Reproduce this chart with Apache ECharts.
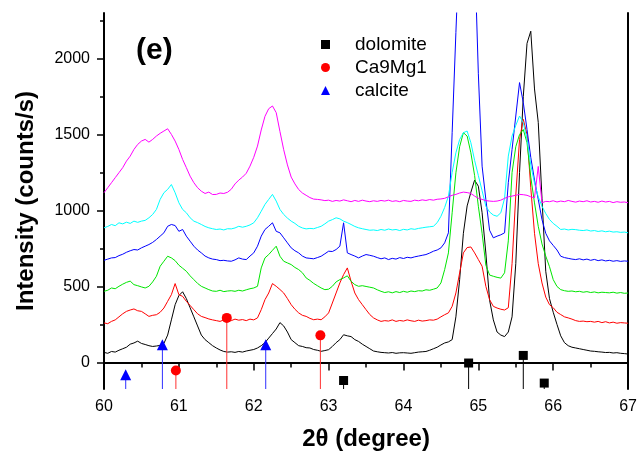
<!DOCTYPE html>
<html>
<head>
<meta charset="utf-8">
<script src="https://cdn.jsdelivr.net/npm/echarts@6/dist/echarts.min.js"></script>
<style>
  html, body { margin: 0; padding: 0; background: #fff; }
  #chart { width: 640px; height: 458px; }
</style>
</head>
<body>
<div id="chart"></div>
<script>
// 2-theta sampling grid (degrees), shared by all six diffraction patterns
const twoTheta = [
  60.00, 60.05, 60.10, 60.15, 60.20, 60.25, 60.30, 60.35, 60.40, 60.45,
  60.50, 60.55, 60.60, 60.65, 60.70, 60.75, 60.80, 60.85, 60.90, 60.95,
  61.00, 61.05, 61.10, 61.15, 61.20, 61.25, 61.30, 61.35, 61.40, 61.45,
  61.50, 61.55, 61.60, 61.65, 61.70, 61.75, 61.80, 61.85, 61.90, 61.95,
  62.00, 62.05, 62.10, 62.15, 62.20, 62.25, 62.30, 62.35, 62.40, 62.45,
  62.50, 62.55, 62.60, 62.65, 62.70, 62.75, 62.80, 62.85, 62.90, 62.95,
  63.00, 63.05, 63.10, 63.15, 63.20, 63.25, 63.30, 63.35, 63.40, 63.45,
  63.50, 63.55, 63.60, 63.65, 63.70, 63.75, 63.80, 63.85, 63.90, 63.95,
  64.00, 64.05, 64.10, 64.15, 64.20, 64.25, 64.30, 64.35, 64.40, 64.45,
  64.50, 64.55, 64.60, 64.65, 64.70, 64.75, 64.80, 64.85, 64.90, 64.95,
  65.00, 65.05, 65.10, 65.15, 65.20, 65.25, 65.30, 65.35, 65.40, 65.45,
  65.50, 65.55, 65.60, 65.65, 65.70, 65.75, 65.80, 65.85, 65.90, 65.95,
  66.00, 66.05, 66.10, 66.15, 66.20, 66.25, 66.30, 66.35, 66.40, 66.45,
  66.50, 66.55, 66.60, 66.65, 66.70, 66.75, 66.80, 66.85, 66.90, 66.95,
  67.00
];

// Intensities (counts/s), offset traces from bottom to top
const blackTrace = [
  66, 60, 72, 68, 80, 90, 100, 120, 128, 140,
  125, 118, 110, 105, 108, 112, 125, 180, 280, 380,
  440, 465, 420, 360, 300, 240, 180, 150, 130, 110,
  95, 82, 72, 68, 70, 66, 72, 68, 75, 80,
  85, 95, 110, 130, 160, 190, 220, 262, 240, 200,
  150, 130, 110, 105, 97, 95, 85, 80, 73, 78,
  84, 105, 130, 150, 182, 175, 170, 150, 138, 120,
  105, 90, 75, 70, 66, 64, 62, 65, 60, 63,
  64, 62, 60, 64, 68, 70, 72, 80, 90, 100,
  115, 128, 135, 150, 300, 545, 850, 1030, 1120, 1200,
  1160, 985, 720, 410, 280, 200, 180, 170, 200, 300,
  650, 1250, 1750, 2100, 2180, 1800, 1580, 1080, 600, 420,
  330, 250, 175, 130, 110, 100, 95, 90, 85, 80,
  75, 73, 70, 68, 65, 66, 62, 64, 60, 58,
  55
];
const redTrace = [
  260, 255, 270, 280, 300, 320, 336, 345, 352, 340,
  336, 320, 303, 310, 314, 330, 358, 402, 446, 519,
  446, 435, 402, 375, 347, 320, 303, 295, 286, 280,
  275, 270, 280, 272, 275, 285, 278, 282, 275, 285,
  280, 293, 347, 413, 457, 519, 501, 480, 457, 420,
  380, 350, 326, 310, 303, 290, 281, 285, 281, 300,
  326, 391, 457, 523, 578, 622, 534, 457, 413, 380,
  347, 315, 293, 280, 270, 275, 272, 280, 270, 276,
  272, 280, 274, 270, 278, 272, 275, 280, 278, 285,
  300, 314, 326, 369, 457, 589, 721, 756, 760, 721,
  677, 633, 501, 413, 369, 358, 350, 345, 360, 650,
  1100, 1467, 1600, 1500, 1150, 850, 650, 523, 430, 380,
  360, 330, 315, 300, 293, 285, 275, 270, 272, 268,
  270, 265, 270, 262, 268, 260, 265, 258, 262, 260,
  258
];
const greenTrace = [
  468, 475, 490, 485, 501, 515, 527, 535, 512, 505,
  497, 490, 501, 530, 567, 633, 666, 699, 688, 670,
  640, 620, 600, 570, 545, 520, 501, 490, 479, 470,
  468, 475, 466, 470, 472, 468, 475, 470, 478, 485,
  490, 501, 622, 688, 710, 738, 765, 699, 666, 655,
  644, 625, 611, 590, 556, 540, 520, 505, 490, 479,
  482, 501, 530, 545, 556, 570, 534, 512, 501, 505,
  500, 495, 490, 478, 468, 460, 465, 458, 466, 460,
  468, 462, 470, 466, 472, 470, 478, 475, 482, 490,
  523, 611, 721, 985, 1248, 1420, 1512, 1490, 1380, 1230,
  1028, 850, 640, 575, 567, 560, 555, 590, 800, 1250,
  1420, 1500, 1533, 1446, 1220, 1050, 896, 780, 700, 630,
  545, 500, 479, 472, 468, 470, 465, 468, 462, 466,
  460, 464, 458, 462, 460, 458, 462, 456, 460, 455,
  457
];
const blueTrace = [
  672, 680, 688, 690, 703, 712, 725, 735, 743, 740,
  754, 765, 776, 790, 809, 831, 853, 896, 908, 901,
  863, 875, 831, 798, 765, 740, 721, 700, 688, 680,
  677, 670, 672, 668, 666, 675, 688, 680, 677, 700,
  721, 765, 831, 875, 896, 919, 863, 853, 820, 787,
  754, 735, 721, 700, 688, 685, 682, 690, 699, 715,
  732, 730, 743, 765, 919, 721, 710, 700, 688, 700,
  710, 705, 699, 690, 682, 688, 677, 685, 680, 690,
  684, 692, 688, 695, 700, 705, 710, 720, 732, 740,
  754, 787, 853, 1512, 2172, 2800, 3200, 3300, 3100, 2700,
  1900, 1292, 1073, 870, 820, 831, 840, 853, 1183, 1402,
  1622, 1842, 1710, 1533, 1350, 1200, 1073, 940, 850, 800,
  770, 740, 699, 690, 685, 680, 677, 682, 675, 680,
  672, 678, 670, 675, 668, 672, 666, 670, 665, 668,
  666
];
const cyanTrace = [
  886, 895, 908, 900, 919, 912, 923, 915, 930, 922,
  930, 935, 952, 974, 1007, 1073, 1117, 1139, 1171, 1117,
  1051, 1007, 985, 952, 930, 920, 908, 895, 886, 880,
  875, 878, 872, 880, 879, 885, 896, 890, 896, 905,
  919, 952, 995, 1040, 1073, 1106, 1062, 1007, 974, 950,
  930, 915, 896, 885, 879, 882, 880, 888, 896, 912,
  930, 940, 952, 945, 930, 920, 908, 895, 886, 880,
  875, 870, 872, 868, 875, 870, 878, 872, 875, 868,
  876, 872, 880, 876, 882, 886, 890, 893, 896, 920,
  962, 1020, 1094, 1250, 1380, 1467, 1512, 1523, 1446, 1330,
  1230, 1130, 1028, 990, 970, 962, 985, 1080, 1358, 1490,
  1560, 1622, 1578, 1467, 1300, 1180, 1090, 1028, 980, 941,
  915, 896, 875, 878, 872, 876, 874, 870, 868, 872,
  865, 868, 862, 866, 860, 864, 858, 860, 856, 858,
  853
];
const magentaTrace = [
  1117, 1150, 1183, 1216, 1249, 1282, 1325, 1358, 1402, 1435,
  1457, 1468, 1450, 1468, 1490, 1508, 1523, 1538, 1501, 1457,
  1402, 1336, 1282, 1226, 1183, 1150, 1127, 1112, 1121, 1105,
  1106, 1115, 1112, 1120, 1140, 1175, 1200, 1220, 1245, 1292,
  1350, 1424, 1530, 1620, 1670, 1688, 1644, 1520, 1400, 1300,
  1220, 1175, 1138, 1115, 1100, 1085, 1075, 1073, 1070, 1065,
  1068, 1060, 1066, 1062, 1070, 1064, 1058, 1066, 1060, 1068,
  1062, 1058, 1064, 1060, 1066, 1062, 1068, 1060, 1064, 1058,
  1066, 1062, 1060, 1068, 1064, 1070, 1066, 1072, 1068, 1074,
  1076, 1080, 1090, 1100, 1106, 1115, 1121, 1118, 1112, 1095,
  1080, 1073, 1065, 1062, 1060, 1062, 1068, 1080, 1090, 1095,
  1100, 1106, 1104, 1100, 1090, 1084, 1290, 1051, 1060, 1058,
  1064, 1056, 1062, 1058, 1066, 1060, 1055, 1062, 1058, 1064,
  1056, 1060, 1054, 1062, 1056, 1060, 1052, 1058, 1054, 1056,
  1051
];

// Reference pattern sticks: positions (2-theta) and marker heights
const dolomiteX = [63.20, 64.87, 65.60, 65.88];
const dolomiteY = [-119, -4, 46, -136];
const ca9mg1X = [60.96, 61.64, 62.89];
const ca9mg1Y = [-53, 293, 178];
const calciteX = [60.29, 60.78, 62.16];
const calciteY = [-81, 117, 117];

// Axis settings
const yMin = -175;
const yMax = 2300;
const yMajorTicks = [0, 500, 1000, 1500, 2000];
const yMinorTicks = [250, 750, 1250, 1750, 2250];

const FONT = '"Liberation Sans", Arial, sans-serif';

function pairs(xs, ys) {
  return xs.map((x, i) => [x, ys[i]]);
}

function traceSeries(name, values, color) {
  return {
    name: name,
    type: 'line',
    xAxisIndex: 0,
    yAxisIndex: 0,
    data: pairs(twoTheta, values),
    showSymbol: false,
    symbol: 'none',
    lineStyle: { color: color, width: 1 },
    itemStyle: { color: color },
    silent: true,
    z: 2
  };
}

function stemSeries(xs, ys, color) {
  return {
    type: 'custom',
    xAxisIndex: 0,
    yAxisIndex: 0,
    data: pairs(xs, ys),
    silent: true,
    z: 3,
    renderItem: function (params, api) {
      const top = api.coord([api.value(0), api.value(1)]);
      const base = api.coord([api.value(0), yMin]);
      return {
        type: 'line',
        shape: { x1: top[0], y1: top[1], x2: base[0], y2: base[1] },
        style: { stroke: color, lineWidth: 1 }
      };
    }
  };
}

function markerSeries(name, xs, ys, symbol, size, color) {
  return {
    name: name,
    type: 'scatter',
    xAxisIndex: 0,
    yAxisIndex: 0,
    data: pairs(xs, ys),
    symbol: symbol,
    symbolSize: size,
    itemStyle: { color: color, opacity: 1 },
    silent: true,
    z: 4
  };
}

const chart = echarts.init(document.getElementById('chart'), null, { renderer: 'canvas' });

chart.setOption({
  animation: false,
  backgroundColor: '#ffffff',
  title: {
    text: '(e)',
    left: 136,
    top: 36,
    padding: 0,
    textStyle: { fontFamily: FONT, fontSize: 30, fontWeight: 'bold', color: '#000' }
  },
  legend: {
    orient: 'vertical',
    left: 321,
    top: 35,
    padding: 0,
    itemWidth: 9,
    itemHeight: 9,
    itemGap: 4,
    data: ['dolomite', 'Ca9Mg1', 'calcite'],
    textStyle: { fontFamily: FONT, fontSize: 19, color: '#000', padding: [0, 0, 0, 20] }
  },
  grid: { left: 104, right: 6, top: 13, bottom: 69, containLabel: false },
  xAxis: [
    {
      type: 'value',
      position: 'bottom',
      min: 60,
      max: 67,
      interval: 1,
      name: '2θ (degree)',
      nameLocation: 'middle',
      nameGap: 38,
      nameTextStyle: { fontFamily: FONT, fontSize: 24, fontWeight: 'bold', color: '#000' },
      axisLine: { lineStyle: { color: '#000', width: 2 } },
      axisTick: { inside: false, length: 8, lineStyle: { color: '#000', width: 1.5 } },
      axisLabel: { fontFamily: FONT, fontSize: 16, color: '#000', margin: 10 },
      splitLine: { show: false }
    },
    {
      type: 'value',
      position: 'top',
      min: 60,
      max: 67,
      interval: 0.5,
      axisLine: { lineStyle: { color: '#000', width: 2 } },
      axisTick: { inside: true, length: 5, lineStyle: { color: '#000', width: 1.5 } },
      axisLabel: { show: false },
      splitLine: { show: false }
    },
    {
      // half-degree minor ticks below the bottom axis
      type: 'value',
      position: 'bottom',
      min: 60,
      max: 67,
      interval: 0.5,
      axisLine: { show: false },
      axisTick: { inside: false, length: 4, lineStyle: { color: '#000', width: 1.5 } },
      axisLabel: { show: false },
      splitLine: { show: false }
    }
  ],
  yAxis: [
    {
      type: 'value',
      position: 'left',
      min: yMin,
      max: yMax,
      name: 'Intensity (counts/s)',
      nameLocation: 'middle',
      nameGap: 66,
      nameTextStyle: { fontFamily: FONT, fontSize: 24, fontWeight: 'bold', color: '#000' },
      axisLine: { lineStyle: { color: '#000', width: 2 } },
      axisTick: { inside: false, length: 7, customValues: yMajorTicks, lineStyle: { color: '#000', width: 1.5 } },
      axisLabel: {
        fontFamily: FONT, fontSize: 16, color: '#000', margin: 14,
        customValues: yMajorTicks,
        formatter: function (v) { return String(v); }
      },
      splitLine: { show: false }
    },
    {
      type: 'value',
      position: 'left',
      min: yMin,
      max: yMax,
      axisLine: { show: false },
      axisTick: { inside: false, length: 4, customValues: yMinorTicks, lineStyle: { color: '#000', width: 1.5 } },
      axisLabel: { show: false },
      splitLine: { show: false }
    },
    {
      type: 'value',
      position: 'right',
      min: yMin,
      max: yMax,
      axisLine: { show: true, lineStyle: { color: '#000', width: 2 } },
      axisTick: { show: false },
      axisLabel: { show: false },
      splitLine: { show: false }
    }
  ],
  series: [
    traceSeries('trace-1', blackTrace, '#000000'),
    traceSeries('trace-2', redTrace, '#ff0000'),
    traceSeries('trace-3', greenTrace, '#00e600'),
    traceSeries('trace-4', blueTrace, '#0000ff'),
    traceSeries('trace-5', cyanTrace, '#00ffff'),
    traceSeries('trace-6', magentaTrace, '#ff00ff'),
    stemSeries(dolomiteX, dolomiteY, '#000000'),
    stemSeries(ca9mg1X, ca9mg1Y, '#ff3030'),
    stemSeries(calciteX, calciteY, '#3030ff'),
    markerSeries('dolomite', dolomiteX, dolomiteY, 'rect', 9, '#000000'),
    markerSeries('Ca9Mg1', ca9mg1X, ca9mg1Y, 'circle', 10, '#ff0000'),
    markerSeries('calcite', calciteX, calciteY, 'triangle', 11, '#0000ff')
  ]
});
</script>
</body>
</html>
